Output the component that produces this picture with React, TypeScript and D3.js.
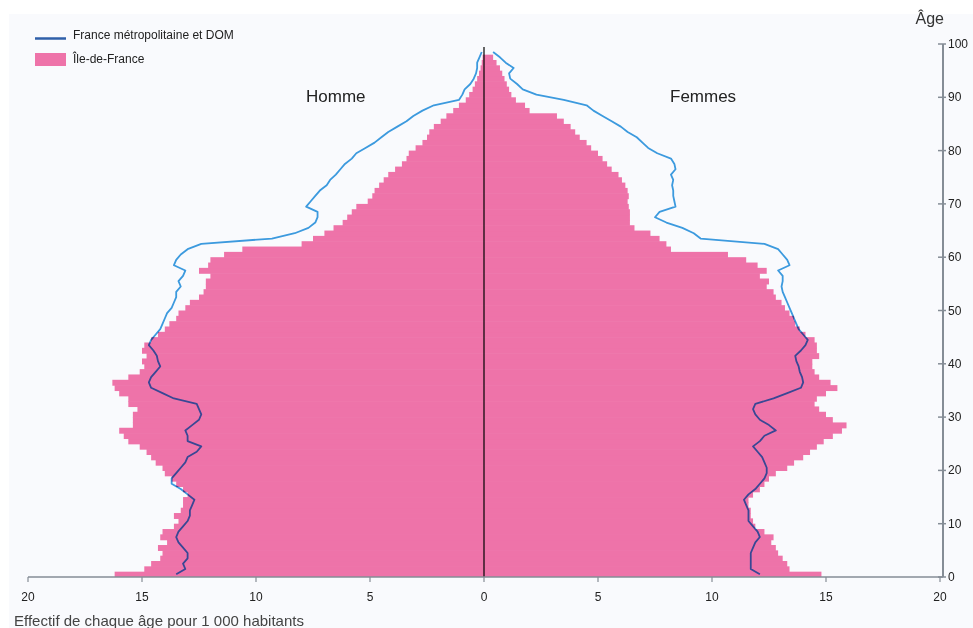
import React from "react";
import * as d3 from "d3";

// Île-de-France, men, per 1000 inhabitants, ages 0..97
const idfMen = [
  16.2, 14.9, 14.6, 14.2, 14.1, 14.3, 13.9, 14.2, 14.1, 13.6,
  13.4, 13.6, 13.3, 13.2, 13.2, 13.0, 13.2, 13.5, 13.7, 14.0,
  14.1, 14.4, 14.6, 14.8, 15.1, 15.6, 15.8, 16.0, 15.4, 15.4,
  15.4, 15.2, 15.6, 15.6, 16.0, 16.2, 16.3, 15.6, 15.1, 14.9,
  15.0, 14.8, 15.0, 14.9, 14.6, 14.3, 14.0, 13.8, 13.5, 13.4,
  13.1, 12.9, 12.5, 12.3, 12.2, 12.2, 12.0, 12.5, 12.1, 12.0,
  11.4, 10.6, 8.0, 7.5, 7.0, 6.6, 6.2, 6.0, 5.8, 5.6,
  5.1, 4.9, 4.8, 4.6, 4.4, 4.2, 3.9, 3.6, 3.4, 3.3,
  3.0, 2.7, 2.5, 2.4, 2.2, 1.9, 1.65, 1.35, 1.1, 0.8,
  0.65, 0.5, 0.4, 0.3, 0.22, 0.15, 0.1, 0.06,
];

// Île-de-France, women, ages 0..97
const idfWomen = [
  14.8, 13.4, 13.3, 13.1, 12.9, 12.8, 12.6, 12.7, 12.3, 11.9,
  11.8, 11.7, 11.7, 11.6, 11.6, 11.8, 12.1, 12.3, 12.5, 12.8,
  13.3, 13.6, 14.0, 14.3, 14.6, 14.9, 15.3, 15.7, 15.9, 15.3,
  15.0, 14.7, 14.5, 14.6, 15.0, 15.5, 15.2, 14.7, 14.5, 14.4,
  14.4, 14.7, 14.6, 14.6, 14.5, 14.1, 13.85, 13.65, 13.6, 13.4,
  13.2, 13.05, 12.8, 12.7, 12.4, 12.5, 12.1, 12.4, 12.0, 11.5,
  10.7, 8.2, 8.0, 7.7, 7.3, 6.6, 6.4, 6.4, 6.4, 6.35,
  6.3, 6.35, 6.3, 6.2, 6.05, 5.9, 5.6, 5.4, 5.2, 5.0,
  4.7, 4.5, 4.2, 4.0, 3.8, 3.5, 3.2, 2.0, 1.8, 1.4,
  1.2, 1.1, 1.0, 0.9, 0.8, 0.7, 0.55, 0.4,
];

// France métropolitaine et DOM, men, ages 0..98
const franceMen = [
  13.5, 13.1, 13.2, 13.0, 13.0, 13.2, 13.4, 13.5, 13.4, 13.2,
  13.0, 12.9, 12.9, 12.8, 12.7, 13.0, 13.3, 13.7, 13.7, 13.5,
  13.3, 13.1, 13.0, 12.6, 12.4, 13.0, 13.0, 13.1, 12.8, 12.5,
  12.4, 12.5, 12.6, 13.6, 14.1, 14.6, 14.7, 14.6, 14.4, 14.2,
  14.3, 14.35, 14.5, 14.7, 14.6, 14.4, 14.2, 14.1, 14.0, 13.9,
  13.7, 13.6, 13.5, 13.5, 13.3, 13.4, 13.2, 13.1, 13.6, 13.5,
  13.3, 13.0, 12.4, 9.3, 8.3, 7.7, 7.4, 7.3, 7.3, 7.8,
  7.6, 7.4, 7.2, 6.9, 6.75, 6.5, 6.3, 6.1, 5.8, 5.6,
  5.2, 4.8, 4.5, 4.2, 3.8, 3.4, 3.1, 2.7, 2.2, 1.1,
  0.95, 0.85, 0.6, 0.45, 0.35, 0.3, 0.3, 0.2, 0.1,
];

// France métropolitaine et DOM, women, ages 0..98
const franceWomen = [
  12.1, 11.7, 11.7, 11.7, 11.7, 11.8, 11.9, 12.1, 12.0, 11.8,
  11.6, 11.6, 11.6, 11.5, 11.4, 11.6, 11.9, 12.1, 12.3, 12.4,
  12.4, 12.3, 12.2, 12.0, 11.8, 12.1, 12.3, 12.8, 12.5, 12.1,
  11.9, 11.8, 11.9, 12.7, 13.3, 13.9, 14.0, 13.95, 13.85, 13.8,
  13.7, 13.65, 13.9, 14.1, 14.2, 14.0, 13.8, 13.7, 13.6, 13.5,
  13.4, 13.3, 13.2, 13.1, 13.05, 13.1, 13.1, 12.9, 13.4, 13.3,
  13.1, 12.9, 12.3, 9.5, 9.2, 8.7, 8.0, 7.5, 7.7, 8.4,
  8.35, 8.3, 8.3, 8.25, 8.3, 8.2, 8.4, 8.35, 8.2, 7.6,
  7.2, 6.95, 6.7, 6.3, 6.0, 5.6, 5.2, 4.8, 4.5, 3.5,
  2.3, 1.7, 1.45, 1.15, 1.1, 1.3, 0.95, 0.7, 0.4,
];

const xTicks = [0, 5, 10, 15, 20];
const ageTicks = [0, 10, 20, 30, 40, 50, 60, 70, 80, 90, 100];

const W = 973;
const H = 628;
const FONT = "'Liberation Sans', Arial, Helvetica, sans-serif";
const PINK = "#ee73a9";
const AXIS = "#858d96";

export default function App() {
  const xL = d3.scaleLinear().domain([0, 20]).range([484, 28]);
  const xR = d3.scaleLinear().domain([0, 20]).range([484, 940]);
  const y = d3.scaleLinear().domain([0, 100]).range([577, 44]);
  const axisX = 943;
  const overlap = 0.6;

  const lineL = d3
    .line<number>()
    .x((v) => xL(v))
    .y((_, i) => y(i + 0.5))(franceMen);
  const lineR = d3
    .line<number>()
    .x((v) => xR(v))
    .y((_, i) => y(i + 0.5))(franceWomen);

  return (
    <svg
      width={W}
      height={H}
      style={{ position: "absolute", left: 0, top: 0, fontFamily: FONT }}
    >
      <rect x={0} y={0} width={W} height={H} fill="#ffffff" />
      <rect x={9} y={14} width={W - 9} height={H - 14} fill="#f9fafd" />

      {/* bars */}
      <g>
        {idfMen.map((v, i) => (
          <rect
            key={"m" + i}
            x={xL(v)}
            y={y(i + 1)}
            width={xL(0) - xL(v)}
            height={y(i) - y(i + 1) + (i > 0 ? overlap : 0)}
            fill={PINK}
          />
        ))}
        {idfWomen.map((v, i) => (
          <rect
            key={"f" + i}
            x={xR(0)}
            y={y(i + 1)}
            width={xR(v) - xR(0)}
            height={y(i) - y(i + 1) + (i > 0 ? overlap : 0)}
            fill={PINK}
          />
        ))}
      </g>

      {/* France lines */}
      <g style={{ mixBlendMode: "multiply" }}>
        <path d={lineL || ""} fill="none" stroke="#3d9de0" strokeWidth={1.8} strokeLinejoin="round" />
        <path d={lineR || ""} fill="none" stroke="#3d9de0" strokeWidth={1.8} strokeLinejoin="round" />
      </g>

      {/* center line */}
      <line x1={xR(0)} x2={xR(0)} y1={47} y2={577} stroke="#000" strokeWidth={1.2} />

      {/* bottom axis */}
      <line x1={xL(20)} x2={axisX} y1={y(0)} y2={y(0)} stroke={AXIS} strokeWidth={1.5} />
      {xTicks.map((t) => (
        <g key={"tl" + t}>
          <line x1={xL(t)} x2={xL(t)} y1={y(0)} y2={y(0) + 5} stroke={AXIS} strokeWidth={1.2} />
          <text x={xL(t)} y={601} textAnchor="middle" fontSize={12} fill="#222">
            {t}
          </text>
        </g>
      ))}
      {xTicks
        .filter((t) => t > 0)
        .map((t) => (
          <g key={"tr" + t}>
            <line x1={xR(t)} x2={xR(t)} y1={y(0)} y2={y(0) + 5} stroke={AXIS} strokeWidth={1.2} />
            <text x={xR(t)} y={601} textAnchor="middle" fontSize={12} fill="#222">
              {t}
            </text>
          </g>
        ))}

      {/* right age axis */}
      <line x1={axisX} x2={axisX} y1={y(100)} y2={y(0)} stroke={AXIS} strokeWidth={2} />
      {ageTicks.map((t) => (
        <g key={"a" + t}>
          <line x1={axisX - 5} x2={axisX + 3} y1={y(t)} y2={y(t)} stroke={AXIS} strokeWidth={1.5} />
          <text x={axisX + 5} y={y(t) + 4} fontSize={12} fill="#222">
            {t}
          </text>
        </g>
      ))}
      <text x={944} y={24} textAnchor="end" fontSize={16} fill="#333">
        Âge
      </text>

      {/* side titles */}
      <text x={306} y={102} fontSize={17} fill="#222">
        Homme
      </text>
      <text x={670} y={102} fontSize={17} fill="#222">
        Femmes
      </text>

      {/* legend */}
      <line x1={35} x2={66} y1={38.5} y2={38.5} stroke="#2f5fa9" strokeWidth={2.5} />
      <text x={73} y={39} fontSize={12} fill="#222">
        France métropolitaine et DOM
      </text>
      <rect x={35} y={53} width={31} height={13} fill={PINK} />
      <text x={73} y={63} fontSize={12} fill="#222">
        Île-de-France
      </text>

      {/* x-axis caption */}
      <text x={14} y={626} fontSize={15} fill="#444">
        Effectif de chaque âge pour 1 000 habitants
      </text>
    </svg>
  );
}
